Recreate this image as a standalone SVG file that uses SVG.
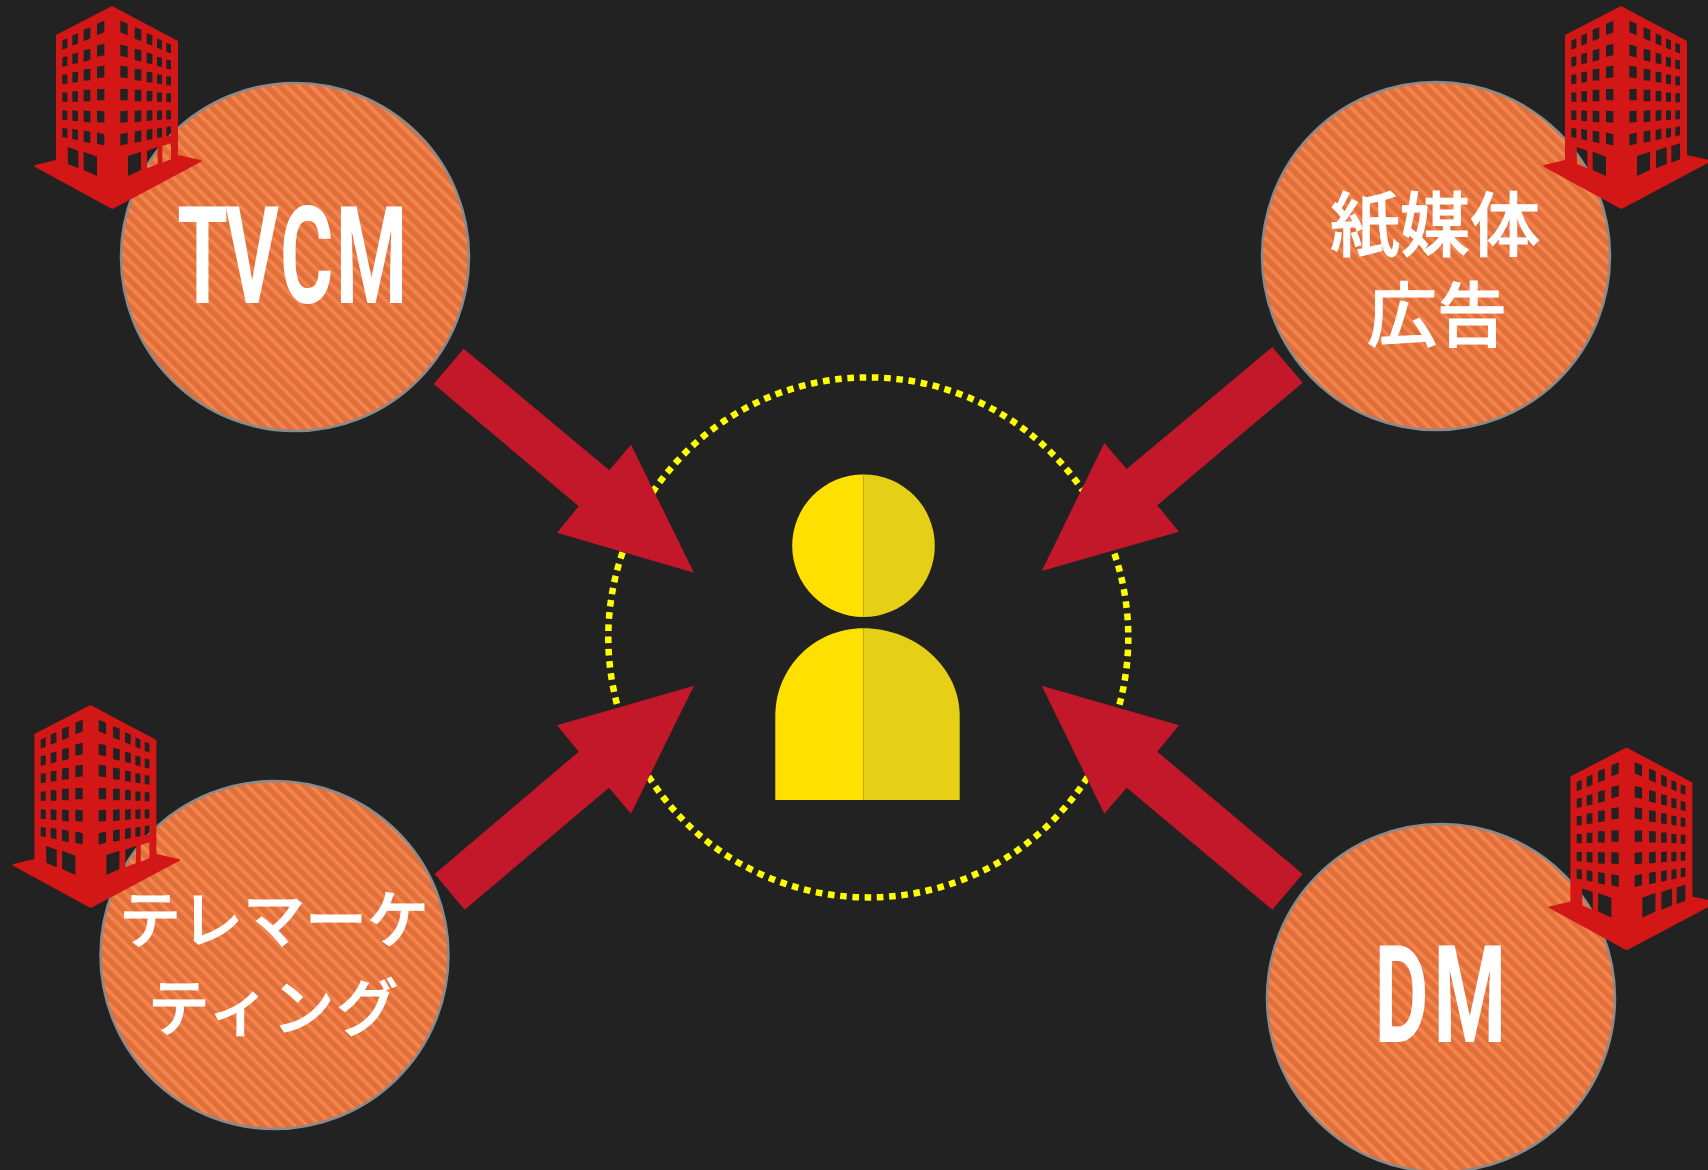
<svg xmlns="http://www.w3.org/2000/svg" width="1708" height="1170" viewBox="0 0 1708 1170">
<style>
.bg{fill:#222222}
.disc{fill:url(#stripes);stroke:#8a8a8a;stroke-width:2.5}
.bld{fill:#d31616;fill-rule:evenodd}
.arrow{fill:#c3172a}
.din{font-family:Roboto,"Liberation Sans",Arial,sans-serif;font-weight:700;font-size:135px;fill:#fff}
.jp{font-family:"Noto Sans CJK JP","Noto Sans",sans-serif;font-weight:500;fill:#fff;stroke:#fff;stroke-width:1;text-anchor:middle}
.l{fill:#ffe000}
.r{fill:#e6cf17}
</style>
<defs>
<pattern id="stripes" patternUnits="userSpaceOnUse" width="9" height="9" patternTransform="rotate(45)">
<rect width="9" height="9" fill="#e0703b"/>
<rect width="9" height="3.6" y="1" fill="#f5844d"/>
</pattern>
<path id="b" class="bld" transform="scale(.33333)" d="M336 18L534 123V465L604 481Q606 484 602 486L339 626H335L104 500Q101 496 105 495L168 480V105Z
M187 121.5l15-6v28l-15 6zM187 172l15-3v28l-15 3zM187 224.5l15-2v28l-15 2zM187 277.5l15 0v28l-15 0zM187 331l15 1v28l-15-1zM187 383l15 3v28l-15-3z
M217 106.5l17-7v31l-17 7zM217 162l17-4v31l-17 4zM217 217l17-2v31l-17 2zM217 274l17 0v31l-17 0zM217 331l17 2v31l-17-2zM217 386l17 4v31l-17-4z
M251 89.5l20-8v34l-20 8zM251 151l20-5v34l-20 5zM251 208.5l20-2v34l-20 2zM251 269.5l20 0v34l-20 0zM251 331.5l20 2v34l-20-2zM251 391.5l20 4v34l-20-4z
M291 71.5l22-9v34l-22 9zM291 136.5l22-5v34l-22 5zM291 200.5l22-3v34l-22 3zM291 267l22 0v34l-22 0zM291 332l22 2v34l-22-2zM291 397.5l22 5v34l-22-5z
M361 62.5l22 9v34l-22-9zM361 133.5l22 5v34l-22-5zM361 197.5l22 3v34l-22-3zM361 267l22 0v34l-22 0zM361 334l22-2v34l-22 2zM361 402.5l22-5v34l-22 5z
M404 81.5l20 8v34l-20-8zM404 146l20 5v34l-20-5zM404 206.5l20 2v34l-20-2zM404 269.5l20 0v34l-20 0zM404 332.5l20-2v34l-20 2zM404 394.5l20-4v34l-20 4z
M440 99.5l17 7v31l-17-7zM440 158l17 4v31l-17-4zM440 215l17 2v31l-17-2zM440 273l17 0v31l-17 0zM440 332l17-2v31l-17 2zM440 390l17-4v31l-17 4z
M471 115.5l15 6v28l-15-6zM471 170l15 3v28l-15-3zM471 222.5l15 2v28l-15-2zM471 277.5l15 0v28l-15 0zM471 332l15-1v28l-15 1zM471 386l15-3v28l-15 3z
M499 128.5l14 5v27l-14-5zM499 178.5l14 3v27l-14-3zM499 228.5l14 1v27l-14-1zM499 280l14 0v27l-14 0zM499 331.5l14-1v27l-14 1zM499 381.5l14-3v27l-14 3z
M203 441L235 452V505L204 492ZM251 455L291 470V528L251 510Z
M384 468L423 455V510L384 528ZM441 452L473 441V492L441 505ZM487 438L513 430V478L487 488Z"/>
</defs>
<rect class="bg" width="1708" height="1170"/>

<g id="target-ring">
<circle cx="868.3" cy="637.4" r="260" fill="none" stroke="#ffff00" stroke-width="6.5" stroke-dasharray="6.6 5.683"/>
</g>
<g id="connectors">
<path class="arrow" d="M463.7 348.7L609.3 470.3L631 444.7L694 572.7L557 532.7L578.7 506.3L433.7 384Z"/>
<path class="arrow" d="M1272.3 347L1126.7 469L1104.3 443L1041.7 571L1179 531.7L1157.3 505.3L1302.7 382.7Z"/>
<path class="arrow" d="M434.7 874L578.7 751.7L557 725.3L694 685.7L631 813.7L609 787.7L464.7 909.7Z"/>
<path class="arrow" d="M1302.7 874L1157.3 751.7L1179 725.3L1041.7 685.7L1104.3 813.7L1126.7 787.7L1272.3 909.7Z"/>
</g>

<g id="person">
<path class="l" d="M863.5 474.4A71.3 71.3 0 0 0 863.5 617Z"/>
<path class="r" d="M863.5 474.4A71.3 71.3 0 0 1 863.5 617Z"/>
<path class="l" d="M863.5 628.3C815 628.3 775.3 667 775.3 716V800H863.5Z"/>
<path class="r" d="M863.5 628.3C915 628.3 959.7 667 959.7 716V800H863.5Z"/>
<path d="M863.5 474.4V617M863.5 628.3V800" stroke="#bfa915" stroke-width="1" fill="none"/>
</g>

<g id="node-tvcm">
<circle class="disc" cx="295" cy="257" r="174"/>
<text class="din" transform="translate(179 303.3) scale(.605 1)" x="-3 77 167 259">TVCM</text>
<use href="#b"/>
</g>
<g id="node-paper">
<circle class="disc" cx="1436" cy="256" r="174"/>
<text class="jp" font-size="70"><tspan x="1435" y="251">紙媒体</tspan><tspan x="1437" y="341">広告</tspan></text>
<use href="#b" transform="translate(1509 0)"/>
</g>
<g id="node-telemarketing">
<circle class="disc" cx="274.5" cy="955" r="174"/>
<text class="jp" font-size="62"><tspan x="274" y="943">テレマーケ</tspan><tspan x="274" y="1031" letter-spacing="2">ティング</tspan></text>
<use href="#b" transform="translate(-21.6 699)"/>
</g>
<g id="node-dm">
<circle class="disc" cx="1441" cy="998" r="174"/>
<text class="din" transform="translate(1380 1042.3) scale(.615 1)" x="-9 87">DM</text>
<use href="#b" transform="translate(1514.4 741.4)"/>
</g>
</svg>
